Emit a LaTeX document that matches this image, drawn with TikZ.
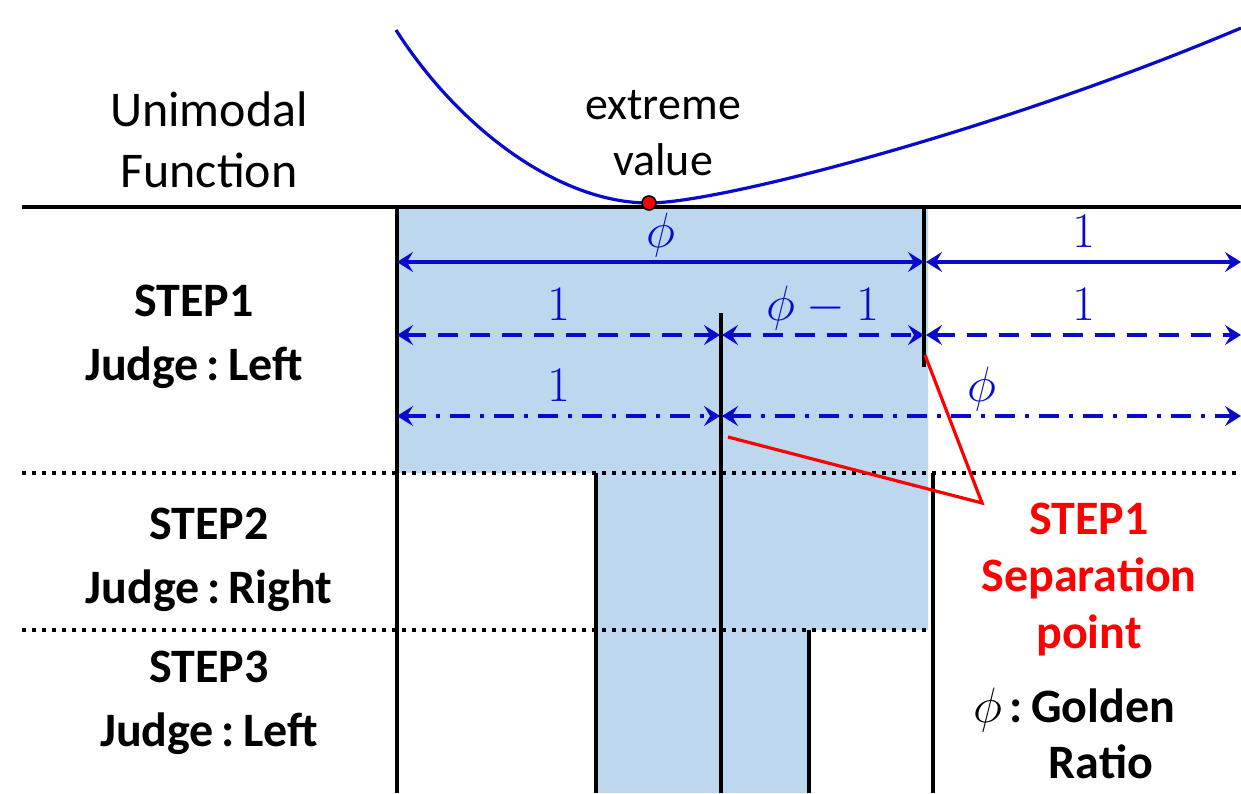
\documentclass[tikz,border=0pt]{standalone}
\usepackage{fontspec}
\setmainfont{Carlito}
\usetikzlibrary{arrows.meta}

\definecolor{lineblue}{RGB}{10,10,205}
\definecolor{shadeblue}{RGB}{189,215,238}

\tikzset{
	tip/.tip={Stealth[length=8pt,width=10pt,inset=3pt]},
	dim/.style={lineblue, line width=2pt, tip-tip},
	dimdash/.style={dim, dash pattern=on 10pt off 6pt},
	dimdot/.style={dim, dash pattern=on 10pt off 5pt on 2pt off 5pt},
	num/.style={anchor=base, yshift=7.5pt, inner sep=0pt, font=\fontsize{25}{28}\selectfont},
	wall/.style={line width=2.4pt},
	sepline/.style={line width=1.8pt, dash pattern=on 2pt off 3pt},
	txt/.style={align=center, font=\fontsize{25}{30.5}\selectfont},
	steplbl/.style={align=center, font=\bfseries\fontsize{24}{32}\selectfont},
	redlbl/.style={align=center, red, font=\bfseries\fontsize{24}{28.5}\selectfont}
}

\begin{document}
\begin{tikzpicture}[x=0.5pt, y=-0.5pt]
\clip (0,0) rectangle (1241,793);

% Zona sombreada
\fill[shadeblue] (397,207) -- (928,207) -- (928,630) -- (809,630) -- (809,793)
	-- (596,793) -- (596,473) -- (397,473) -- cycle;

% Funcion unimodal
\draw[lineblue, line width=1.6pt] (396,30) .. controls (460,130) and (560,203) .. (649,203)
	.. controls (720,203) and (1000,130) .. (1241,28);
\draw[line width=2.4pt] (22,207) -- (1241,207);
\node[circle, fill=red, draw=black, line width=0.8pt, inner sep=0pt, minimum size=7pt] (ext) at (649,203) {};

% Separaciones
\draw[sepline] (22,473) -- (1241,473);
\draw[sepline] (22,630) -- (930,630);

\foreach \x/\ya/\yb in {397/207/793, 924/207/367, 721/313/793, 596/473/793, 933/473/793, 809/630/793}
	\draw[wall] (\x,\ya) -- (\x,\yb);

% Cotas
\foreach \y/\xa/\xb/\t in {262/397/924/{$\phi$}, 262/926/1241/{$1$}}
	\draw[dim] (\xa,\y) -- (\xb,\y) node[midway, num] {\t};

\foreach \y/\xa/\xb/\t in {335/397/720/{$1$}, 335/722/924/{$\phi-1$}, 335/926/1241/{$1$}}
	\draw[dimdash] (\xa,\y) -- (\xb,\y) node[midway, num] {\t};

\foreach \y/\xa/\xb/\t in {416/397/720/{$1$}, 416/722/1241/{$\phi$}}
	\draw[dimdot] (\xa,\y) -- (\xb,\y) node[midway, num] {\t};

% Textos
\node[txt] (unimodal) at (209,140) {Unimodal\\Function};
\node[txt, font=\fontsize{23}{28}\selectfont] (extreme) at (663,133) {extreme\\value};

\node[steplbl] (step1) at (194,337) {STEP1\\Judge\,:\,Left};
\node[steplbl] (step2) at (209,560) {STEP2\\Judge\,:\,Right};
\node[steplbl] (step3) at (209,703) {STEP3\\Judge\,:\,Left};

\node[redlbl] (seppt) at (1089,580) {STEP1\\Separation\\point};
\node[steplbl, font=\bfseries\fontsize{24}{28}\selectfont] (golden) at (1074,733)
	{$\phi$\,:\,Golden\\\hspace*{27pt}Ratio};

% Punto de separacion
\coordinate (junc) at (982,503);
\coordinate (s1) at (925,355);
\coordinate (s2) at (728,437);
\draw[red, line width=1.6pt] (s1) -- (junc) -- (s2);

\end{tikzpicture}
\end{document}
